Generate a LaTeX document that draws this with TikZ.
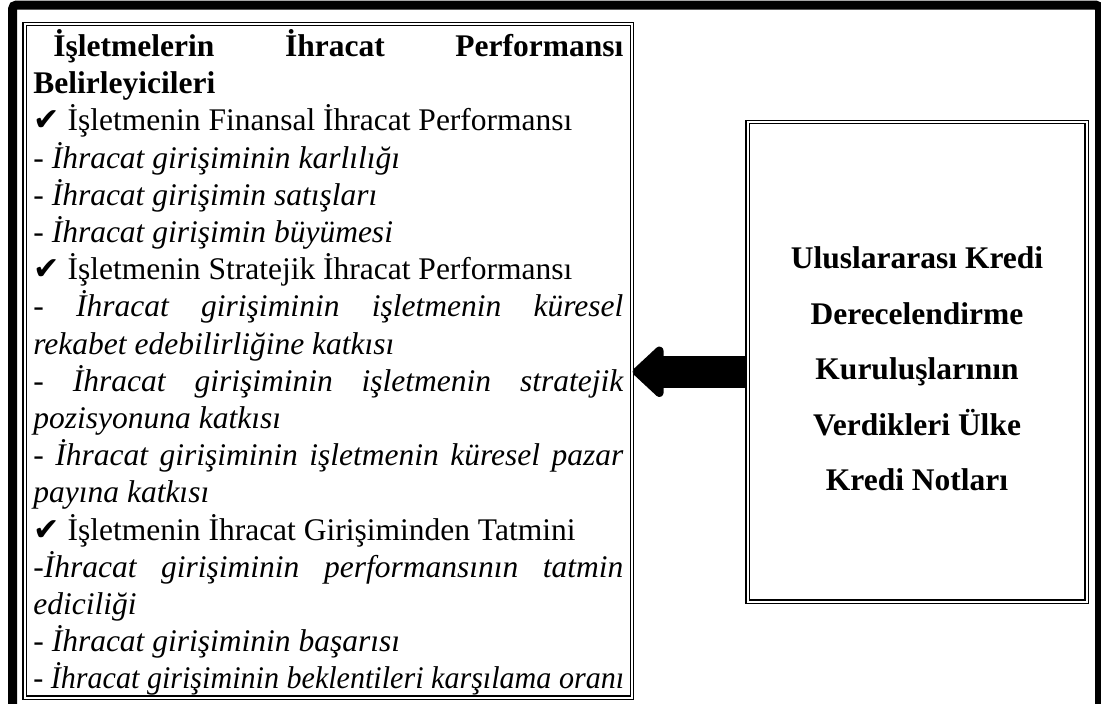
\documentclass[tikz,border=0pt]{standalone}
\usepackage{fontspec}
\usepackage{graphicx}
\setmainfont{Liberation Serif}
\newfontfamily\checkfont{DejaVu Sans}
\usetikzlibrary{arrows.meta}
\newcommand{\onay}{{\checkfont\char"2714}}
\begin{document}
\begin{tikzpicture}[x=0.5pt,y=-0.5pt,
frame/.style={%
line width=4.5pt,
rounded corners=2pt,
draw
},
kutu/.style={%
draw,
double,
line width=0.6pt,
double distance=1pt,
inner sep=0pt
},
metin/.style={%
anchor=north west,
text width=295pt,
align=justify,
inner sep=0pt,
font=\fontsize{15.75}{18.6}\selectfont
},
ok/.style={%
line width=16pt,
-{Triangle[length=16.5pt,width=29.5pt,round]}
},
]
\useasboundingbox(0,0)rectangle(1101,703);
%% Frame
\draw[frame](12.5,5)rectangle(1099.5,712);
%% Boxes
\node[kutu,minimum width=303.75pt,minimum height=336.75pt](sol)at(328.25,360.75){};
\node[kutu,minimum width=169.5pt,minimum height=239.75pt](sag)at(917,361.75){};
%% Text
\node[align=center,font=\bfseries\fontsize{15.75}{27.75}\selectfont](sagtext)
at([yshift=-3.5pt]sag.center){%
Uluslararası Kredi\\Derecelendirme\\Kuruluşlarının\\Verdikleri Ülke\\Kredi Notları};
\node[metin](soltext)at(33,29){%
\hspace*{10pt}\textbf{İşletmelerin İhracat Performansı\linebreak Belirleyicileri}\par
\onay\ İşletmenin Finansal İhracat Performansı\par
- \textit{İhracat girişiminin karlılığı}\par
- \textit{İhracat girişimin satışları}\par
- \textit{İhracat girişimin büyümesi}\par
\onay\ İşletmenin Stratejik İhracat Performansı\par
- \textit{İhracat girişiminin işletmenin küresel\linebreak rekabet edebilirliğine katkısı}\par
- \textit{İhracat girişiminin işletmenin stratejik\linebreak pozisyonuna katkısı}\par
- \textit{İhracat girişiminin işletmenin küresel pazar\linebreak payına katkısı}\par
\onay\ İşletmenin İhracat Girişiminden Tatmini\par
-\textit{İhracat girişiminin performansının tatmin\linebreak ediciliği}\par
- \textit{İhracat girişiminin başarısı}\par
\scalebox{0.955}[1]{- \textit{İhracat girişiminin beklentileri karşılama oranı}}};
%% Arrow
\draw[ok]([yshift=-5pt]sag.west)--([yshift=-5pt]sag.west-|sol.east);
\end{tikzpicture}
\end{document}
